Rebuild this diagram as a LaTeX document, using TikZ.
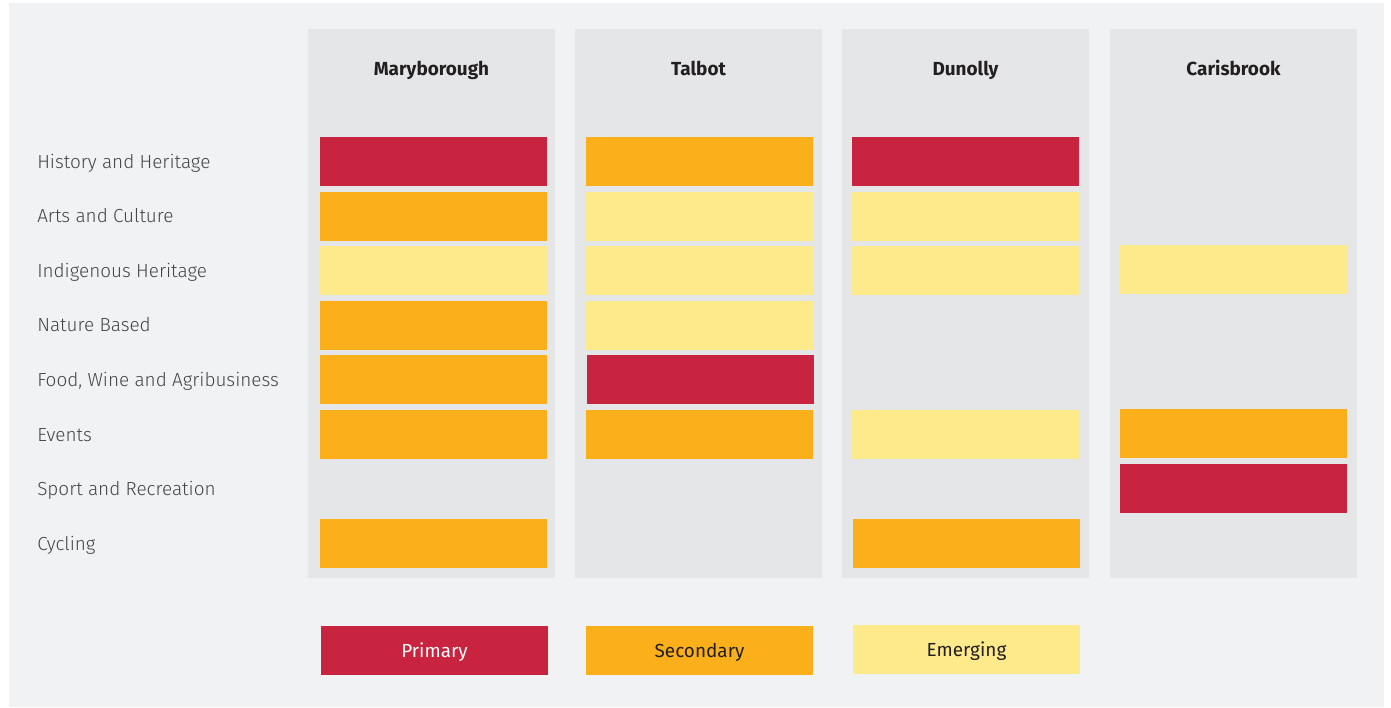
\documentclass[tikz,border=0pt]{standalone}
\usepackage{fontspec}
\setmainfont{Fira Sans}
\newfontfamily\lightfont{Fira Sans Light}
\usepackage{tikz}

\definecolor{pagebg}{HTML}{F1F2F4}
\definecolor{colbg}{HTML}{E5E6E8}
\definecolor{primred}{HTML}{C8233F}
\definecolor{secorange}{HTML}{FAAF1B}
\definecolor{emergyellow}{HTML}{FEEA8A}
\definecolor{labelgrey}{HTML}{454547}
\definecolor{headdark}{HTML}{231F20}

\tikzset{
  column/.style={fill=colbg,draw=none,inner sep=0,minimum width=185.25pt,minimum height=411.75pt},
  capsonly/.style={text height=0.69em,text depth=0pt},
  town/.style={font=\fontsize{14.2}{17}\selectfont\bfseries,text=headdark,capsonly,inner sep=0},
  theme/.style={font=\lightfont\fontsize{14.2}{17}\selectfont,text=labelgrey,anchor=west,inner sep=0,capsonly},
  bar/.style={draw=none,inner sep=0,minimum width=170.25pt,minimum height=36.75pt},
  primary/.style={bar,fill=primred},
  secondary/.style={bar,fill=secorange},
  emerging/.style={bar,fill=emergyellow},
  keytext/.style={font=\fontsize{14.2}{17}\selectfont,capsonly}
}

\begin{document}
\begin{tikzpicture}[x=0.75pt,y=-0.75pt]
  \useasboundingbox (0,0) rectangle (1391,707);
  \fill[pagebg] (9,3) rectangle (1384,707);

  % columns and town names
  \node[column] (mary) at (431.5,303.5) {};
  \node[column] (talbot) at (698.5,303.5) {};
  \node[column] (dunolly) at (965.5,303.5) {};
  \node[column] (caris) at (1233.5,303.5) {};
  \node[town] (mary-name) at (431.5,71) {Maryborough};
  \node[town] (talbot-name) at (698.5,71) {Talbot};
  \node[town] (dunolly-name) at (965.5,71) {Dunolly};
  \node[town] (caris-name) at (1233.5,71) {Carisbrook};

  % themes
  \node[theme] (hist) at (37,163.5) {History and Heritage};
  \node[theme] (arts) at (37,218.1) {Arts and Culture};
  \node[theme] (indig) at (37,272.7) {Indigenous Heritage};
  \node[theme] (nature) at (37,327.3) {Nature Based};
  \node[theme] (food) at (37,381.9) {Food, Wine and Agribusiness};
  \node[theme] (events) at (37,436.5) {Events};
  \node[theme] (sport) at (37,491.1) {Sport and Recreation};
  \node[theme] (cycling) at (37,545.7) {Cycling};

  % Maryborough
  \node[primary] (mary-hist) at (433.5,161.5) {};
  \node[secondary] (mary-arts) at (433.5,216.1) {};
  \node[emerging] (mary-indig) at (433.5,270.7) {};
  \node[secondary] (mary-nature) at (433.5,325.3) {};
  \node[secondary] (mary-food) at (433.5,379.9) {};
  \node[secondary] (mary-events) at (433.5,434.5) {};
  \node[secondary] (mary-cycling) at (433.5,543.7) {};

  % Talbot
  \node[secondary] (talbot-hist) at (699.5,161.5) {};
  \node[emerging] (talbot-arts) at (699.5,216.1) {};
  \node[emerging] (talbot-indig) at (699.5,270.7) {};
  \node[emerging] (talbot-nature) at (699.5,325.3) {};
  \node[primary] (talbot-food) at (700.5,379.9) {};
  \node[secondary] (talbot-events) at (699.5,434.5) {};

  % Dunolly
  \node[primary] (dunolly-hist) at (965.5,161) {};
  \node[emerging] (dunolly-arts) at (965.5,216.1) {};
  \node[emerging] (dunolly-indig) at (965.5,270.7) {};
  \node[emerging] (dunolly-events) at (965.5,434.5) {};
  \node[secondary] (dunolly-cycling) at (966.5,543.7) {};

  % Carisbrook
  \node[emerging] (caris-indig) at (1233.5,269.7) {};
  \node[secondary] (caris-events) at (1233.5,433.5) {};
  \node[primary] (caris-sport) at (1233.5,488.5) {};

  % legend
  \node[primary] (key-prim) at (434.5,650.5) {};
  \node[secondary] (key-sec) at (699.5,650.5) {};
  \node[emerging] (key-emerg) at (966.5,649.5) {};
  \node[keytext,text=white] (key-prim-text) at (434.5,652.5) {Primary};
  \node[keytext,text=headdark] (key-sec-text) at (699.5,652.5) {Secondary};
  \node[keytext,text=headdark] (key-emerg-text) at (966.5,652) {Emerging};
\end{tikzpicture}
\end{document}
